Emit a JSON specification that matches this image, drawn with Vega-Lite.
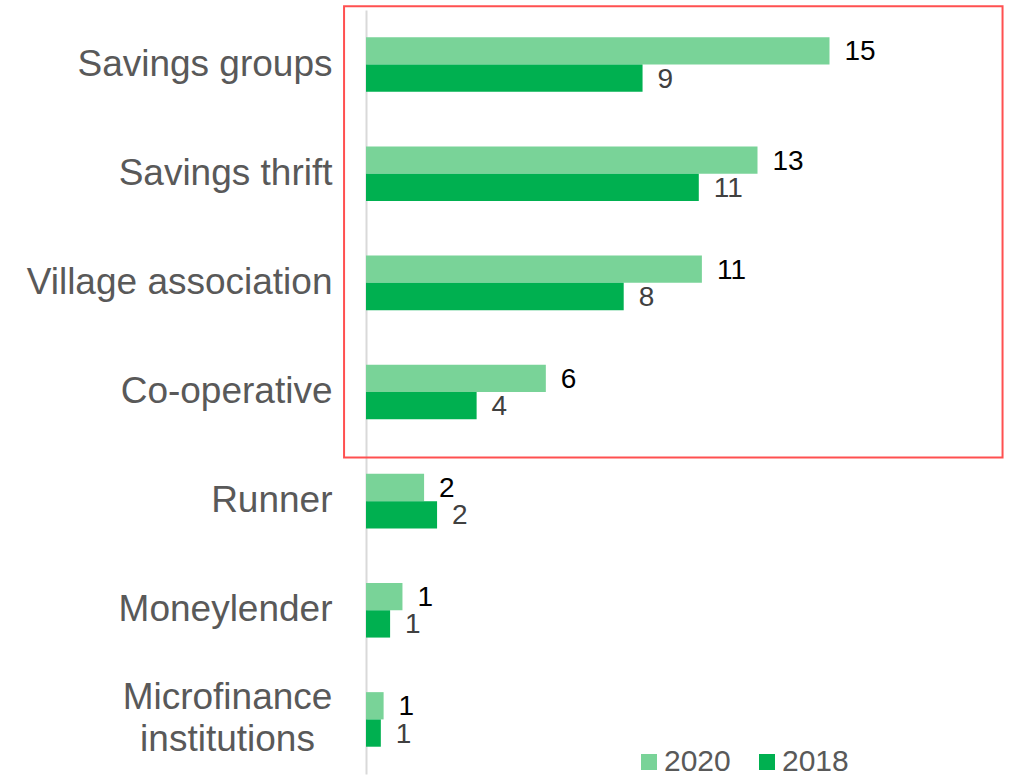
{
  "$schema": "https://vega.github.io/schema/vega-lite/v6.json",
  "width": 618,
  "height": 764,
  "autosize": "none",
  "padding": {"left": 366, "top": 10, "right": 28, "bottom": 4},
  "background": "white",
  "config": {
    "view": {"stroke": null},
    "font": "Liberation Sans",
    "axis": {"labelFont": "Liberation Sans", "titleFont": "Liberation Sans"},
    "legend": {"labelFont": "Liberation Sans"},
    "text": {"font": "Liberation Sans"}
  },
  "datasets": {
    "bars": [
      {"category": "Savings groups", "year": "2020", "value": 15.0, "label": "15"},
      {"category": "Savings groups", "year": "2018", "value": 8.95, "label": "9"},
      {"category": "Savings thrift", "year": "2020", "value": 12.67, "label": "13"},
      {"category": "Savings thrift", "year": "2018", "value": 10.77, "label": "11"},
      {"category": "Village association", "year": "2020", "value": 10.87, "label": "11"},
      {"category": "Village association", "year": "2018", "value": 8.34, "label": "8"},
      {"category": "Co-operative", "year": "2020", "value": 5.82, "label": "6"},
      {"category": "Co-operative", "year": "2018", "value": 3.58, "label": "4"},
      {"category": "Runner", "year": "2020", "value": 1.88, "label": "2"},
      {"category": "Runner", "year": "2018", "value": 2.3, "label": "2"},
      {"category": "Moneylender", "year": "2020", "value": 1.18, "label": "1"},
      {"category": "Moneylender", "year": "2018", "value": 0.78, "label": "1"},
      {"category": "Microfinance institutions", "year": "2020", "value": 0.57, "label": "1"},
      {"category": "Microfinance institutions", "year": "2018", "value": 0.48, "label": "1"}
    ],
    "box": [
      {"x": -0.71, "x2": 20.6, "top": "Savings groups", "bottom": "Runner"}
    ]
  },
  "layer": [
    {
      "data": {"name": "bars"},
      "mark": {"type": "bar"},
      "encoding": {
        "y": {
          "field": "category",
          "type": "nominal",
          "scale": {
            "domain": ["Savings groups", "Savings thrift", "Village association", "Co-operative", "Runner", "Moneylender", "Microfinance institutions"],
            "paddingInner": 0,
            "paddingOuter": 0
          },
          "axis": {
            "title": null,
            "ticks": false,
            "domainColor": "#D9D9D9",
            "domainWidth": 2,
            "labelFontSize": 37,
            "labelColor": "#595959",
            "labelPadding": {"condition": {"test": "datum.value == 'Microfinance institutions'", "value": 139}, "value": 34},
            "labelAlign": {"condition": {"test": "datum.value == 'Microfinance institutions'", "value": "center"}, "value": "right"},
            "labelOffset": {"condition": {"test": "datum.value == 'Microfinance institutions'", "value": -21}, "value": 0},
            "labelLimit": 400,
            "labelLineHeight": 42,
            "labelExpr": "datum.value == 'Microfinance institutions' ? ['Microfinance', 'institutions'] : datum.value"
          }
        },
        "x": {"field": "value", "type": "quantitative", "scale": {"domain": [0, 20], "nice": false}, "axis": null},
        "yOffset": {
          "field": "year",
          "type": "nominal",
          "scale": {"domain": ["2020", "2018"], "paddingInner": 0, "paddingOuter": 1.107}
        },
        "color": {
          "field": "year",
          "type": "nominal",
          "scale": {"domain": ["2020", "2018"], "range": ["#79D398", "#00B050"]},
          "legend": {
            "orient": "none",
            "legendX": 268,
            "legendY": 737,
            "direction": "horizontal",
            "title": null,
            "symbolType": "square",
            "symbolSize": 256,
            "symbolStrokeWidth": 0,
            "labelFontSize": 30,
            "labelColor": "#595959",
            "labelOffset": 0,
            "columnPadding": 21,
            "padding": 0
          }
        }
      }
    },
    {
      "data": {"name": "bars"},
      "mark": {"type": "text", "align": "left", "baseline": "middle", "dx": 15, "dy": 1.5, "fontSize": 28},
      "encoding": {
        "y": {"field": "category", "type": "nominal"},
        "x": {"field": "value", "type": "quantitative", "scale": {"domain": [0, 20], "nice": false}},
        "yOffset": {"field": "year", "type": "nominal"},
        "text": {"field": "label"},
        "color": {"condition": {"test": "datum.year === '2020'", "value": "#000000"}, "value": "#404040"}
      }
    },
    {
      "data": {"name": "box"},
      "mark": {"type": "rect", "filled": false, "stroke": "#FF5050", "strokeWidth": 2, "clip": false},
      "encoding": {
        "x": {"field": "x", "type": "quantitative", "scale": {"domain": [0, 20], "nice": false}},
        "x2": {"field": "x2"},
        "y": {"field": "top", "type": "nominal", "bandPosition": -0.035},
        "y2": {"field": "bottom", "bandPosition": 0.1}
      }
    }
  ]
}
